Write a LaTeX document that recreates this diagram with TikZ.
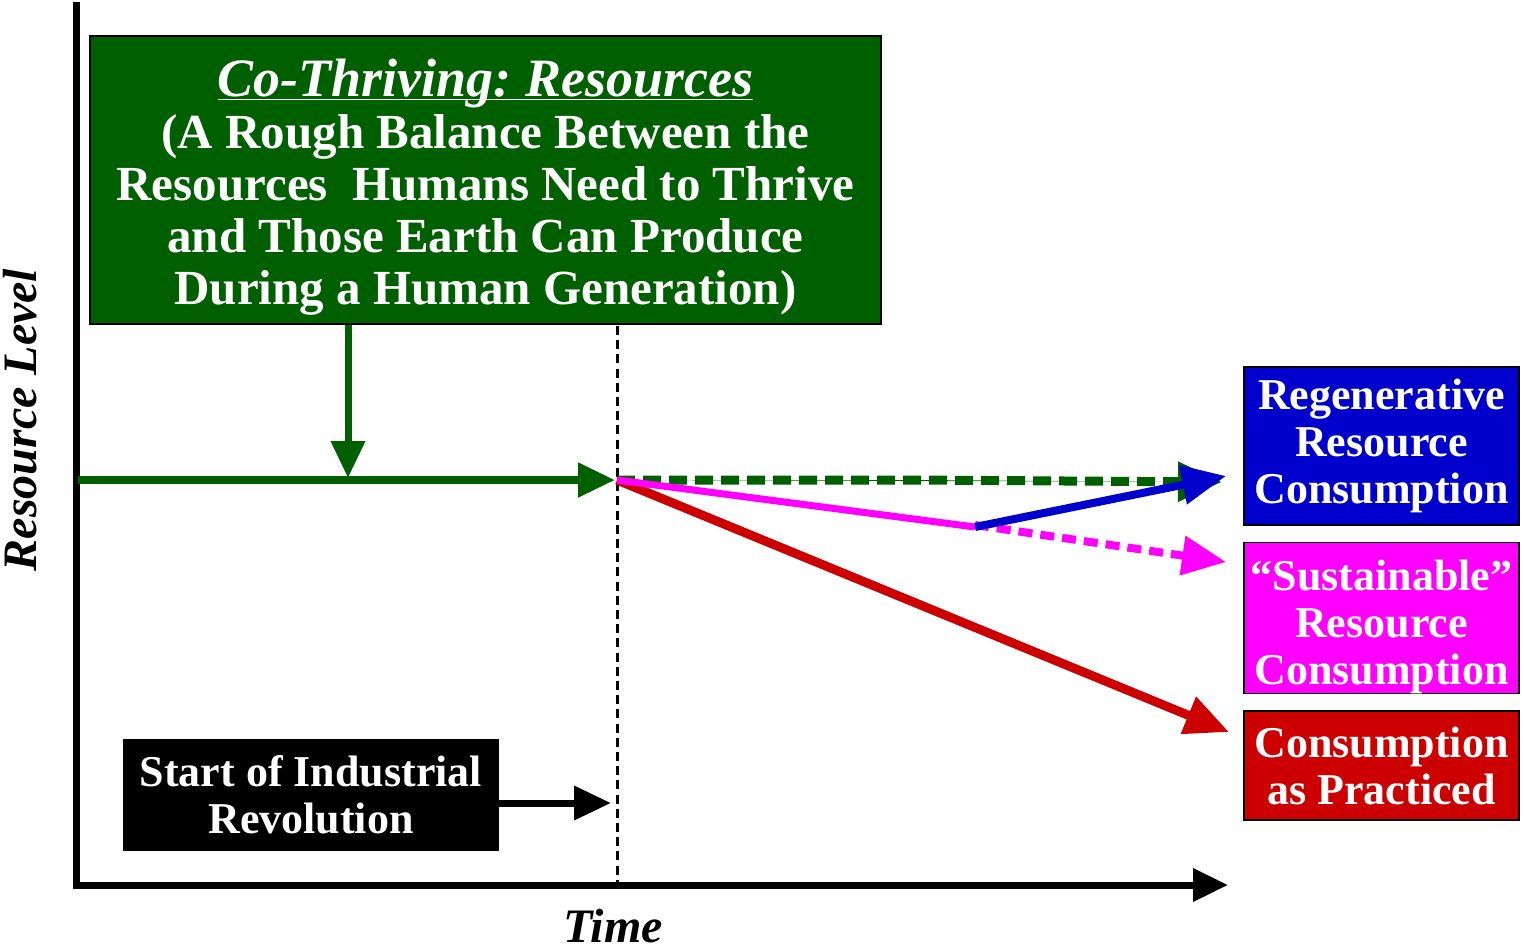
\documentclass[tikz,border=0pt]{standalone}
\usepackage{fontspec}
\setmainfont{Liberation Serif}
\usetikzlibrary{arrows.meta}
\definecolor{cogreen}{RGB}{0,96,0}
\definecolor{regenblue}{RGB}{0,0,204}
\definecolor{sustpink}{RGB}{255,0,255}
\definecolor{practred}{RGB}{204,0,0}
\begin{document}
\begin{tikzpicture}[
        x=0.5pt, y=-0.5pt,
        block/.style={rectangle, draw=black, line width=0.7pt, text=white, inner sep=0pt, align=center, font=\bfseries\fontsize{22}{23.5}\selectfont},
        line/.style={draw, line width=3.5pt, -{Triangle[length=18.5pt, width=16.5pt]}},
        bigline/.style={draw, line width=4pt, -{Triangle[length=22pt, width=19pt]}},
        label/.style={font=\bfseries\itshape\fontsize{24}{26}\selectfont}
    ]
        \useasboundingbox (0,0) rectangle (1524,950);

        % axes
        \coordinate (origin) at (76,885);
        \coordinate (ytop) at (76,2);
        \coordinate (xend) at (1228,885);
        \draw [line width=3.5pt] (ytop) -- (origin);
        \path [line, -{Triangle[length=17.5pt, width=16pt]}] ([xshift=-1.75pt]origin) -- (xend);
        \node [label, rotate=90] (ylab) at (20,420) {Resource Level};
        \node [label] (xlab) at (613,926) {Time};

        % boxes
        \node [block, fill=cogreen, minimum width=395.5pt, minimum height=144pt, font=\bfseries\fontsize{24.5}{26}\selectfont] (co) at (485.5,180)
            {\rule{0pt}{26pt}{\fontsize{27}{30}\selectfont\itshape\underline{\smash{Co-Thriving:\ Resources}}}\\[0pt]
             (A Rough Balance Between the\\
             Resources\ \ Humans Need to Thrive\\
             and Those Earth Can Produce\\
             During a Human Generation)};
        \node [block, fill=black, minimum width=187pt, minimum height=55pt] (indus) at (311,795) {Start of Industrial\\Revolution};
        \node [block, fill=regenblue, minimum width=137.5pt, minimum height=79pt] (regen) at (1381.5,446) {Regenerative\\Resource\\Consumption};
        \node [block, fill=sustpink, minimum width=137.5pt, minimum height=74pt] (sust) at (1381.5,618) {\rule{0pt}{24pt}``Sustainable''\\Resource\\Consumption};
        \node [block, fill=practred, minimum width=137.5pt, minimum height=54.5pt] (pract) at (1381.5,765.5) {Consumption\\as Practiced};

        % key points
        \coordinate (start) at (78,480);
        \coordinate (ind) at (617,480);
        \coordinate (hit) at (348,478);
        \coordinate (kink) at (912,480);
        \coordinate (bend) at (975,527);
        \coordinate (regenend) at (1226,476);
        \coordinate (coend) at (1222,482);
        \coordinate (sustend) at (1226,562);
        \coordinate (practend) at (1229,732);
        \coordinate (indtop) at (617,326);
        \coordinate (indbot) at (617,883);
        \coordinate (indarr) at (611,803);

        % industrial revolution marker
        \draw [line width=1.5pt, dash pattern=on 4.5pt off 2.6pt] (indtop) -- (indbot);
        \path [line, fill=black] (indus.east |- indarr) -- (indarr);
        \path [line, draw=cogreen, fill=cogreen] (co.south -| hit) -- (hit);
        \path [line, draw=cogreen, fill=cogreen, line width=4pt] (start) -- ([xshift=-1pt]ind);

        % futures
        \path [bigline, draw=cogreen, fill=cogreen, line width=4.5pt, dash pattern=on 9pt off 4pt] (ind) -- (kink) -- (coend);
        \path [bigline, draw=practred, fill=practred, line width=4.5pt] (ind) -- (practend);
        \draw [draw=sustpink, line width=3.5pt] (ind) -- (bend);
        \path [bigline, draw=sustpink, fill=sustpink, dash pattern=on 7pt off 4pt] ([yshift=1pt]bend) -- (sustend);
        \path [bigline, draw=regenblue, fill=regenblue] (bend) -- (regenend);
    \end{tikzpicture}
\end{document}
